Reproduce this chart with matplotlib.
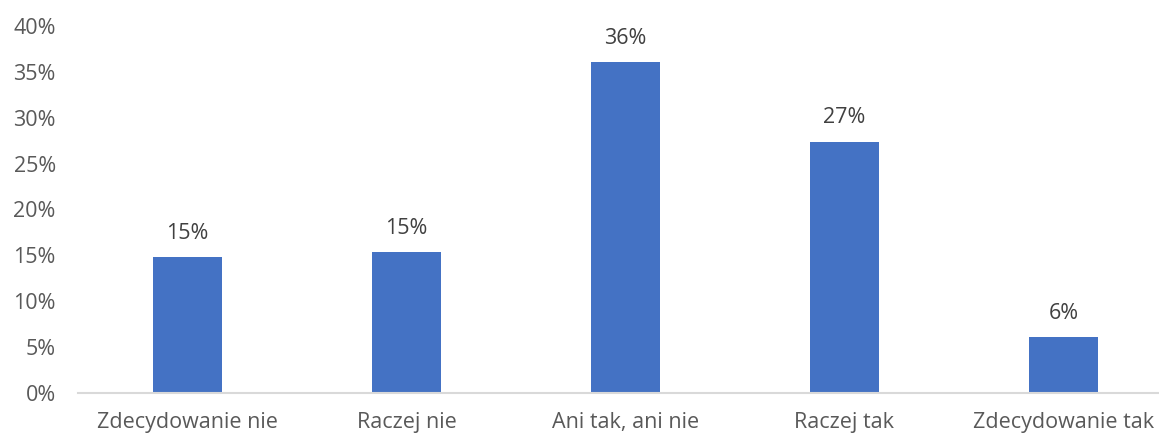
import matplotlib
matplotlib.use("Agg")
import matplotlib.pyplot as plt
from matplotlib.ticker import FuncFormatter, MultipleLocator

categories = ["Zdecydowanie nie", "Raczej nie", "Ani tak, ani nie", "Raczej tak", "Zdecydowanie tak"]
shares = [14.8, 15.3, 36.1, 27.4, 6.1]

plt.rcParams["font.family"] = ["Open Sans", "DejaVu Sans"]

W, H = 1159, 434
fig = plt.figure(figsize=(W / 100, H / 100), dpi=100)
left, right = 78 / W, 1173 / W
bottom, top = 1 - 392.7 / H, 1 - 26 / H
ax = fig.add_axes([left, bottom, right - left, top - bottom])

x = range(len(categories))
bars = ax.bar(x, shares, width=0.315, color="#4472C4", zorder=2)

for rect, v in zip(bars, shares):
    ax.annotate(f"{v:.0f}%", (rect.get_x() + rect.get_width() / 2, v),
                xytext=(0, 9.5), textcoords="offset points",
                ha="center", va="bottom", fontsize=15.5, color="#404040")

ax.set_xlim(-0.5, len(categories) - 0.5)
ax.set_ylim(0, 40)
ax.yaxis.set_major_locator(MultipleLocator(5))
ax.yaxis.set_major_formatter(FuncFormatter(lambda v, p: f"{v:.0f}%"))
ax.set_xticks(list(x))
ax.set_xticklabels(categories)

for s in ("top", "right", "left"):
    ax.spines[s].set_visible(False)
ax.spines["bottom"].set_color("#D9D9D9")
ax.spines["bottom"].set_linewidth(1.5)
ax.tick_params(axis="both", length=0, labelsize=15.5, labelcolor="#595959")
ax.tick_params(axis="y", pad=16)
ax.tick_params(axis="x", pad=14)

fig.savefig("out.png", dpi=100)
